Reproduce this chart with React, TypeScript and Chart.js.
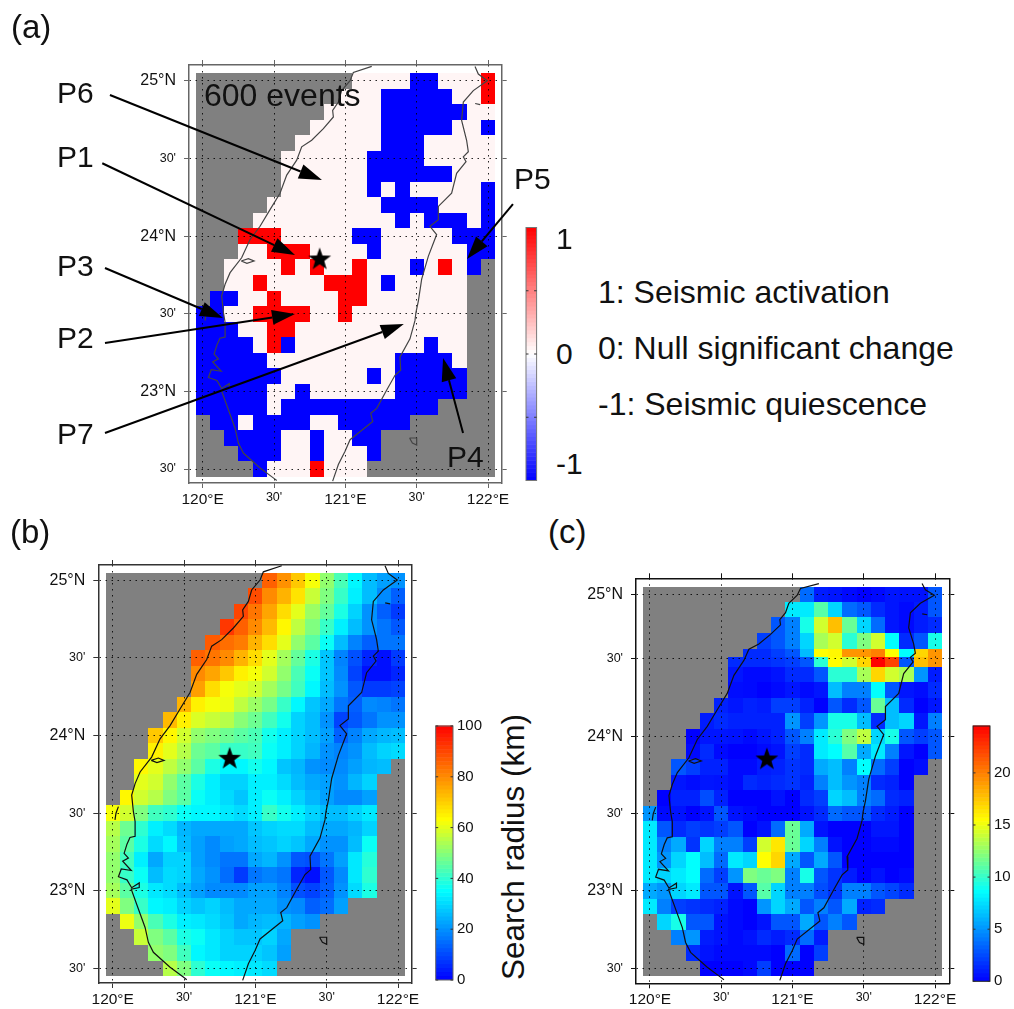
import React, { useEffect, useRef } from "react";
import { Chart, registerables } from "chart.js";

Chart.register(...registerables);

// ---------- axes ----------
const lonTicks = [120, 120.5, 121, 121.5, 122];
const lonLabels = ["120°E", "30'", "121°E", "30'", "122°E"];
const latTicks = [25, 24.5, 24, 23.5, 23, 22.5];
const latTicksC = [24.917, 24.5, 24, 23.5, 23, 22.5];
const latLabels = ["25°N", "30'", "24°N", "30'", "23°N", "30'"];
const radiusTicks = [0, 20, 40, 60, 80, 100];
const countTicks = [0, 5, 10, 15, 20];
const changeTicks = [-1, -0.5, 0, 0.5, 1];

// ---------- panel (a): + activation, o null change, - quiescence, . no data ----------
const seismicRows = [
  "...........oooo--ooo+",
  "..........ooo-----oo+",
  ".........oooo------oo",
  "........ooooo-----oo-",
  ".......oooooo---ooooo",
  "......oooooo----ooooo",
  "......oooooo------ooo",
  "......oooooo-o-ooooo-",
  ".....oooooooo----ooo-",
  "....oooooooooo-o---o-",
  "...+++ooooo--ooooo---",
  "...oo+++oooo-oooooo--",
  "..oooo+o+oo+ooo-o+o-.",
  "..oo+oooo+++o-ooooo..",
  ".--oo+oooo++ooooooo..",
  "--oo++++oo+oooooooo..",
  "---oo++oooooooooooo..",
  "----o+-ooooooooo-oo..",
  "-----ooooooooo----o..",
  "------oooooo-o-----..",
  "-----oo-oooooo-----..",
  "-----o-----------....",
  ".--o----oo-----......",
  "..----oo-oo--........",
  "...---oo-ooo-........",
  "....-ooo+ooo.........",
];

// first column holding data in each row of panels (b) and (c)
const firstCol = [11, 10, 9, 8, 7, 6, 6, 6, 5, 4, 3, 3, 2, 2, 1, 0, 0, 0, 0, 0, 0, 0, 1, 2, 3, 4];

// ---------- panel (b): search radius, km ----------
const radiusRows = [
  [86, 79, 71, 62, 51, 43, 34, 26, 22, 20],
  [89, 80, 74, 67, 57, 49, 41, 33, 26, 19, 13],
  [90, 83, 76, 68, 60, 52, 46, 38, 29, 20, 13, 8],
  [92, 86, 80, 73, 64, 56, 49, 41, 33, 26, 20, 16, 12],
  [87, 84, 82, 74, 68, 60, 51, 45, 36, 26, 18, 13, 16, 16],
  [86, 83, 80, 74, 68, 60, 53, 46, 38, 27, 18, 11, 5, 2, 8],
  [80, 76, 71, 65, 62, 58, 51, 43, 36, 27, 19, 9, 2, 2, 5],
  [77, 68, 62, 60, 58, 53, 48, 42, 34, 26, 20, 12, 8, 8, 9],
  [74, 65, 62, 61, 56, 52, 48, 41, 34, 27, 23, 16, 13, 19, 18, 16],
  [73, 65, 59, 57, 55, 50, 47, 42, 37, 29, 26, 20, 9, 12, 16, 20, 20],
  [71, 64, 58, 51, 49, 47, 45, 43, 37, 33, 29, 26, 22, 13, 18, 23, 25, 26],
  [65, 60, 55, 47, 45, 41, 41, 42, 36, 33, 29, 25, 20, 18, 20, 26, 29, 30],
  [64, 60, 56, 51, 45, 38, 34, 34, 37, 34, 27, 25, 20, 19, 19, 22, 25, 26],
  [60, 58, 51, 45, 38, 33, 29, 29, 33, 33, 30, 26, 23, 22, 20, 25, 29],
  [64, 58, 55, 49, 45, 36, 33, 30, 27, 33, 36, 33, 29, 25, 22, 19, 19, 22],
  [62, 58, 49, 42, 40, 36, 34, 34, 32, 30, 33, 41, 37, 33, 29, 26, 26, 29, 32],
  [55, 47, 40, 33, 30, 25, 23, 23, 23, 23, 27, 29, 30, 30, 26, 23, 23, 25, 29],
  [53, 45, 38, 30, 34, 26, 22, 19, 22, 23, 26, 27, 29, 27, 23, 20, 20, 26, 36],
  [51, 42, 33, 23, 29, 29, 22, 19, 16, 16, 23, 25, 20, 12, 11, 16, 22, 32, 39],
  [51, 41, 36, 26, 30, 29, 23, 20, 15, 8, 16, 18, 16, 5, 2, 12, 19, 32, 40],
  [53, 45, 38, 32, 30, 26, 22, 19, 19, 19, 22, 22, 18, 11, 9, 13, 20, 30, 38],
  [60, 49, 41, 34, 33, 29, 27, 29, 26, 23, 23, 23, 20, 19, 13, 15, 22],
  [61, 51, 43, 38, 33, 32, 30, 27, 23, 25, 26, 25, 22, 20],
  [57, 49, 45, 38, 36, 32, 29, 27, 27, 29, 23],
  [51, 49, 42, 34, 32, 29, 29, 29, 27, 22],
  [55, 49, 40, 36, 34, 33, 32, 30],
];

// ---------- panel (c): colour-bar values 0 to 24.5 ----------
const countRows = [
  [3.6, 0.9, 0.7, 0.3, 0, 0.3, 0.7, 0.6, 0.6, 2.9],
  [7.9, 7.9, 10.9, 7.2, 3.6, 2.9, 1.4, 0.7, 0.3, 0.9, 2.9],
  [2.9, 4.3, 9.2, 14.2, 17.7, 11.4, 7.2, 3.6, 0.7, 0.3, 0.9, 1.4],
  [2.1, 2.9, 4.3, 7.2, 13.1, 14.2, 9.7, 12, 14.2, 8.6, 1.4, 2.9, 9.2],
  [1.4, 1.4, 2.1, 2.9, 6.4, 15.4, 15.7, 19.2, 19.2, 20, 15.4, 8.6, 16.9, 19.2],
  [1.4, 1.4, 1.4, 1.7, 2.1, 2.9, 9.7, 15.4, 14.2, 16.9, 24.5, 22.2, 2.9, 17.7, 19.2],
  [0.7, 0.3, 0.3, 0.6, 1.4, 1.4, 2.9, 9.7, 9.7, 13.1, 16.9, 14.2, 13.1, 5, 0.9],
  [0.4, 0.3, 0, 0.3, 0.7, 0.3, 0.7, 6.4, 4.3, 4.3, 8.6, 2.9, 0.7, 0.4, 1.4],
  [1.1, 0.7, 1.1, 0.9, 2.1, 2.1, 1.1, 0, 2.9, 1.4, 2.9, 11.4, 6.4, 1.4, 0, 0.7],
  [0.9, 1.4, 1.1, 1.1, 1.1, 1.1, 5, 2.1, 5, 9.2, 9.2, 6.4, 1.4, 6.4, 7.2, 0.7, 4.3],
  [0, 0.7, 0.7, 0.6, 0.3, 0.7, 1.1, 2.9, 4.3, 7.9, 9.7, 12, 13.7, 7.2, 9.2, 2.9, 2.1, 2.9],
  [0.3, 1.4, 0.3, 0, 0, 0.3, 0.6, 2.1, 1.4, 7.9, 8.6, 10.9, 5.7, 7.9, 4.3, 0.7, 0, 2.9],
  [2.9, 2.1, 1.1, 1.1, 0.3, 0.3, 0.9, 1.1, 1.7, 1.4, 5.7, 6.4, 4.3, 8.6, 3.6, 2.1, 0, 0.4],
  [0.7, 0.4, 0.7, 0.6, 0.3, 1.4, 1.1, 1.4, 1.7, 1.1, 4.3, 6.4, 5, 4.3, 1.4, 1.1, 0],
  [0, 1.1, 1.1, 2.6, 1.1, 0, 0, 0, 0.6, 0, 1.4, 2.1, 7.2, 6.4, 4.3, 3.6, 1.4, 1.1],
  [5, 0.3, 0.6, 0, 0.6, 2.9, 0.6, 0.3, 0, 0, 0, 0.6, 1.4, 3.6, 2.9, 2.9, 1.4, 0.9, 0],
  [7.9, 2.9, 1.4, 2.1, 1.7, 2.1, 2.9, 0, 0.6, 3.6, 11.4, 5.7, 0.6, 0, 0, 0, 0.7, 0.7, 0],
  [7.9, 4.3, 5.7, 1.7, 7.2, 4.3, 4.3, 2.1, 14.2, 16.3, 11.4, 7.2, 4.3, 0.6, 0, 0, 0.3, 0.3, 0],
  [7.9, 5, 7.2, 8.6, 6.4, 3.6, 7.9, 7.2, 15.4, 16.9, 5.7, 2.9, 5.7, 2.9, 0, 0, 0, 0, 0],
  [7.9, 7.2, 7.9, 8.6, 3.6, 2.1, 5, 12, 11.4, 12, 4.3, 9.2, 2.9, 1.7, 0.9, 0, 0.6, 0, 0.3],
  [5.7, 5, 7.2, 7.9, 2.9, 2.9, 0.6, 2.9, 10.9, 7.2, 4.3, 4.3, 2.6, 1.7, 4.3, 4.3, 2.9, 2.3, 1.4],
  [7.9, 4.3, 2.1, 1.7, 1.4, 1.1, 0.3, 0, 5, 7.2, 5.7, 2.9, 4.3, 2.9, 5.7, 1.1, 1.4],
  [7.2, 9.2, 2.9, 2.9, 0.6, 0.3, 0, 0.6, 2.9, 2.9, 5.7, 2.9, 4.3, 2.9],
  [4.3, 5, 0.9, 0.6, 0.3, 0.6, 1.4, 0.9, 1.4, 3.6, 0.9],
  [1.4, 0.6, 0.3, 0.3, 0.3, 0.3, 0, 3.6, 0, 2.1],
  [0, 0, 0, 0.3, 2.1, 0, 0, 0],
];
// upper rows of panel (c) sit at their own latitudes
const countRowTopLat = [24.966, 24.868, 24.769, 24.666, 24.565, 24.51];

// ---------- coastlines, lon / lat ----------
const westLon = [121.185, 121.056, 121.033, 120.974, 120.951, 120.911, 120.916, 120.846, 120.764, 120.694, 120.659, 120.589, 120.542, 120.472, 120.402, 120.332, 120.273, 120.192, 120.157, 120.133, 120.145, 120.157, 120.157, 120.121, 120.1, 120.08, 120.11, 120.07, 120.13, 120.06, 120.04, 120.1, 120.133, 120.186, 120.186, 120.13, 120.168, 120.227, 120.25, 120.285, 120.402, 120.495, 120.519];
const westLat = [25.094, 25.055, 25.002, 24.938, 24.864, 24.81, 24.768, 24.693, 24.618, 24.576, 24.49, 24.394, 24.277, 24.171, 24.064, 23.979, 23.861, 23.765, 23.69, 23.616, 23.51, 23.446, 23.35, 23.343, 23.3, 23.24, 23.21, 23.19, 23.13, 23.14, 23.09, 23.07, 23.019, 23.05, 23.02, 23.01, 22.913, 22.763, 22.667, 22.603, 22.507, 22.443, 22.426];
const eastLon = [121.909, 121.932, 121.995, 121.897, 121.827, 121.815, 121.85, 121.862, 121.827, 121.846, 121.78, 121.745, 121.652, 121.652, 121.593, 121.64, 121.582, 121.535, 121.512, 121.495, 121.488, 121.453, 121.383, 121.388, 121.348, 121.29, 121.22, 121.178, 121.192, 121.033, 120.998, 120.951, 120.911];
const eastLat = [25.094, 25.045, 25.002, 24.938, 24.864, 24.746, 24.618, 24.544, 24.512, 24.48, 24.405, 24.277, 24.192, 24.107, 24.064, 24.011, 23.872, 23.723, 23.584, 23.51, 23.456, 23.339, 23.222, 23.136, 23.104, 23.009, 22.891, 22.859, 22.806, 22.689, 22.614, 22.529, 22.422];
const islandLon = [121.45, 121.5, 121.5, 121.47, 121.45];
const islandLat = [22.7, 22.7, 22.655, 22.667, 22.7];
const lagoonLon = [120.27, 120.32, 120.36, 120.31, 120.27];
const lagoonLat = [23.84, 23.855, 23.84, 23.825, 23.84];
const barLon = [120.04, 120.023, 120.016];
const barLat = [23.542, 23.499, 23.456];
const isletLon = [121.91, 121.945];
const isletLat = [24.855, 24.848];

const epicenter = { x: 120.82, y: 23.85 };

// ---------- panel (a) arrows: tail lon, tail lat, tip lon, tip lat ----------
const arrowTails = [
  [119.35, 24.91],
  [119.296, 24.47],
  [122.175, 24.207],
  [119.315, 23.795],
  [119.315, 23.312],
  [119.315, 22.732],
  [121.825, 22.732],
];
const arrowTips = [
  [120.836, 24.362],
  [120.647, 23.879],
  [121.853, 23.853],
  [120.142, 23.473],
  [120.647, 23.499],
  [121.41, 23.434],
  [121.685, 23.215],
];

const FONT = "'Liberation Sans', Arial, Helvetica, sans-serif";
const GRAY = "rgb(128,128,128)";

const mix = (a: number[], b: number[], t: number) =>
  `rgb(${a.map((c, i) => Math.round(c + (b[i] - c) * t)).join(",")})`;

function rainbow(t0: number) {
  const t = Math.max(0, Math.min(1, t0));
  if (t < 0.35) return mix([0, 0, 255], [0, 255, 255], t / 0.35);
  if (t < 0.63) return mix([0, 255, 255], [255, 255, 0], (t - 0.35) / 0.28);
  return mix([255, 255, 0], [255, 0, 0], (t - 0.63) / 0.37);
}
function redBlue(v: number) {
  return v >= 0 ? mix([255, 255, 255], [255, 0, 0], v) : mix([255, 255, 255], [0, 0, 255], -v);
}

const seismicGrid = seismicRows.map((r) =>
  r.split("").map((c) => (c === "." ? null : c === "+" ? 1 : c === "-" ? -1 : 0.04)),
);
const padRows = (rows: number[][]) =>
  rows.map((r, i) => [...new Array(firstCol[i]).fill(null), ...r]);

function starCanvas(R: number) {
  const size = Math.ceil(R * 2 + 2);
  const c = document.createElement("canvas");
  c.width = size;
  c.height = size;
  const g = c.getContext("2d")!;
  g.beginPath();
  for (let i = 0; i < 10; i++) {
    const r = i % 2 === 0 ? R : R * 0.4;
    const a = -Math.PI / 2 + (i * Math.PI) / 5;
    const px = size / 2 + r * Math.cos(a);
    const py = size / 2 + r * Math.sin(a);
    if (i === 0) g.moveTo(px, py);
    else g.lineTo(px, py);
  }
  g.closePath();
  g.fillStyle = "#000";
  g.fill();
  return c;
}

type Box = { left: number; top: number; width: number; height: number };
type MapCfg = {
  box: Box;
  frame: { left: number; right: number; top: number; bottom: number };
  lon: [number, number];
  lat: [number, number];
  latTickValues: number[];
  grid: (number | null)[][];
  color: (v: number) => string;
  rowTop?: number[];
  topLat?: (lat: number) => number;
  frameColor: string;
  coastColor: string;
  arrows?: boolean;
};

function makeMap(canvas: HTMLCanvasElement, cfg: MapCfg) {
  const { box, frame } = cfg;
  const adj = cfg.topLat || ((l: number) => l);
  const pts = (lo: number[], la: number[]) => lo.map((x, i) => ({ x, y: adj(la[i]) }));
  const line = (lo: number[], la: number[]) => ({
    type: "scatter" as const,
    data: pts(lo, la),
    showLine: true,
    pointRadius: 0,
    borderWidth: 1.2,
    borderColor: cfg.coastColor,
    tension: 0,
  });
  const rowEdge = (r: number) =>
    cfg.rowTop && r < cfg.rowTop.length ? cfg.rowTop[r] : 25.05 - r * 0.1;

  const cellPlugin = {
    id: "cells",
    beforeDraw(chart: any) {
      const x = chart.scales.x;
      const y = chart.scales.y;
      const ctx = chart.ctx;
      ctx.save();
      const nr = cfg.grid.length;
      const gx0 = Math.round(x.getPixelForValue(119.95));
      const gx1 = Math.round(x.getPixelForValue(122.05));
      const gy0 = Math.round(y.getPixelForValue(rowEdge(0)));
      const gy1 = Math.round(y.getPixelForValue(rowEdge(nr)));
      ctx.fillStyle = GRAY;
      ctx.fillRect(gx0, gy0, gx1 - gx0, gy1 - gy0);
      cfg.grid.forEach((row, r) => {
        const py0 = Math.round(y.getPixelForValue(rowEdge(r)));
        const py1 = Math.round(y.getPixelForValue(rowEdge(r + 1)));
        row.forEach((v, c) => {
          if (v === null || v === undefined) return;
          const px0 = Math.round(x.getPixelForValue(119.95 + c * 0.1));
          const px1 = Math.round(x.getPixelForValue(119.95 + (c + 1) * 0.1));
          ctx.fillStyle = cfg.color(v);
          ctx.fillRect(px0, py0, px1 - px0, py1 - py0);
        });
      });
      ctx.restore();
    },
  };
  const arrowPlugin = {
    id: "arrows",
    afterDraw(chart: any) {
      if (!cfg.arrows) return;
      const x = chart.scales.x;
      const y = chart.scales.y;
      const ctx = chart.ctx;
      ctx.save();
      ctx.strokeStyle = "#000";
      ctx.fillStyle = "#000";
      ctx.lineWidth = 2;
      arrowTails.forEach((tail, i) => {
        const x0 = x.getPixelForValue(tail[0]);
        const y0 = y.getPixelForValue(tail[1]);
        const x1 = x.getPixelForValue(arrowTips[i][0]);
        const y1 = y.getPixelForValue(arrowTips[i][1]);
        const a = Math.atan2(y1 - y0, x1 - x0);
        const L = 23;
        const W = 7.5;
        const bx = x1 - L * Math.cos(a);
        const by = y1 - L * Math.sin(a);
        ctx.beginPath();
        ctx.moveTo(x0, y0);
        ctx.lineTo(bx, by);
        ctx.stroke();
        ctx.beginPath();
        ctx.moveTo(x1, y1);
        ctx.lineTo(bx - W * Math.sin(a), by + W * Math.cos(a));
        ctx.lineTo(bx + W * Math.sin(a), by - W * Math.cos(a));
        ctx.closePath();
        ctx.fill();
      });
      ctx.restore();
    },
  };

  const gridOpt = {
    color: "rgba(0,0,0,0.85)",
    lineWidth: 1,
    tickColor: cfg.frameColor,
    tickLength: 5,
    tickWidth: 1,
    tickBorderDash: [],
  };
  const borderOpt = { display: true, color: cfg.frameColor, width: 1.5, dash: [1.5, 4.5] };
  const setLon = (s: any) => {
    s.ticks = lonTicks.map((value) => ({ value }));
  };
  const setLat = (s: any) => {
    s.ticks = cfg.latTickValues.map((value) => ({ value }));
  };
  const fitH = (h: number) => (s: any) => {
    s.height = h;
    s.paddingLeft = s.paddingRight = 0;
  };
  const fitW = (w: number) => (s: any) => {
    s.width = w;
    s.paddingTop = s.paddingBottom = 0;
  };
  const xBase = { type: "linear" as const, min: cfg.lon[0], max: cfg.lon[1], afterBuildTicks: setLon };
  const yBase = { type: "linear" as const, min: cfg.lat[0], max: cfg.lat[1], afterBuildTicks: setLat };

  return new Chart(canvas, {
    type: "scatter",
    data: {
      datasets: [
        line(westLon, westLat),
        line(eastLon, eastLat),
        line(islandLon, islandLat),
        line(lagoonLon, lagoonLat),
        line(barLon, barLat),
        line(isletLon, isletLat),
        {
          type: "scatter" as const,
          data: [epicenter],
          pointStyle: starCanvas(12) as any,
          pointRadius: 12,
        },
      ],
    },
    options: {
      responsive: false,
      animation: false,
      events: [],
      layout: { padding: 0 },
      plugins: { legend: { display: false }, tooltip: { enabled: false }, title: { display: false } },
      scales: {
        x: {
          ...xBase,
          position: "bottom",
          afterFit: fitH(box.top + box.height - frame.bottom),
          grid: { ...gridOpt },
          border: borderOpt,
          ticks: {
            autoSkip: false,
            maxRotation: 0,
            padding: 2,
            color: "#111",
            callback: (_v: any, i: number) => lonLabels[i],
            font: (ctx: any) => ({
              family: FONT,
              size: ctx.index % 2 === 1 ? 12.5 : 15.5,
            }),
          },
        },
        xTop: {
          ...xBase,
          position: "top",
          afterFit: fitH(frame.top - box.top),
          grid: { ...gridOpt, drawOnChartArea: false },
          border: borderOpt,
          ticks: { display: false },
        },
        y: {
          ...yBase,
          position: "left",
          afterFit: fitW(frame.left - box.left),
          grid: { ...gridOpt },
          border: borderOpt,
          ticks: {
            autoSkip: false,
            padding: 8,
            color: "#111",
            callback: (_v: any, i: number) => latLabels[i],
            font: (ctx: any) => ({
              family: FONT,
              size: ctx.index % 2 === 1 ? 12.5 : 16,
            }),
          },
        },
        yRight: {
          ...yBase,
          position: "right",
          afterFit: fitW(box.left + box.width - frame.right),
          grid: { ...gridOpt, drawOnChartArea: false },
          border: borderOpt,
          ticks: { display: false },
        },
      },
    } as any,
    plugins: [cellPlugin, arrowPlugin],
  });
}

type BarCfg = {
  box: Box;
  bar: { left: number; right: number; top: number; bottom: number };
  min: number;
  max: number;
  ticks: number[];
  color: (v: number) => string;
  labels: boolean;
  edge: string;
};

function makeBar(canvas: HTMLCanvasElement, cfg: BarCfg) {
  const { box, bar } = cfg;
  const barPlugin = {
    id: "bar",
    beforeDatasetsDraw(chart: any) {
      const y = chart.scales.y;
      const { left, right } = chart.chartArea;
      const ctx = chart.ctx;
      ctx.save();
      const levels = 64;
      for (let i = 0; i < levels; i++) {
        const v0 = cfg.min + ((cfg.max - cfg.min) * i) / levels;
        const v1 = cfg.min + ((cfg.max - cfg.min) * (i + 1)) / levels;
        const p0 = y.getPixelForValue(v0);
        const p1 = y.getPixelForValue(v1);
        ctx.fillStyle = cfg.color((v0 + v1) / 2);
        ctx.fillRect(left, p1 - 0.5, right - left, p0 - p1 + 0.5);
      }
      ctx.strokeStyle = cfg.edge;
      ctx.lineWidth = 1;
      ctx.strokeRect(left, chart.chartArea.top, right - left, chart.chartArea.bottom - chart.chartArea.top);
      ctx.strokeStyle = "#333";
      cfg.ticks.forEach((t) => {
        const p = y.getPixelForValue(t);
        ctx.beginPath();
        ctx.moveTo(left, p);
        ctx.lineTo(left + 2.5, p);
        ctx.moveTo(right - 2.5, p);
        ctx.lineTo(right, p);
        ctx.stroke();
      });
      ctx.restore();
    },
  };
  return new Chart(canvas, {
    type: "scatter",
    data: { datasets: [{ data: [], pointRadius: 0 }] },
    options: {
      responsive: false,
      animation: false,
      events: [],
      layout: {
        padding: {
          left: bar.left - box.left,
          top: bar.top - box.top,
          bottom: box.top + box.height - bar.bottom,
          right: cfg.labels ? 0 : box.left + box.width - bar.right,
        },
      },
      plugins: { legend: { display: false }, tooltip: { enabled: false } },
      scales: {
        x: { display: false, min: 0, max: 1 },
        y: {
          type: "linear",
          display: cfg.labels,
          position: "right",
          min: cfg.min,
          max: cfg.max,
          afterBuildTicks: (s: any) => {
            s.ticks = cfg.ticks.map((value) => ({ value }));
          },
          afterFit: (s: any) => {
            s.width = box.left + box.width - bar.right;
            s.paddingTop = s.paddingBottom = 0;
          },
          grid: { display: false, drawTicks: false },
          border: { display: false },
          ticks: {
            autoSkip: false,
            padding: 4,
            color: "#111",
            font: { family: FONT, size: 15 },
          },
        },
      },
    } as any,
    plugins: [barPlugin],
  });
}

function Text({ x, base, size, children }: { x: number; base: number; size: number; children: React.ReactNode }) {
  return (
    <div
      style={{
        position: "absolute",
        left: x,
        top: base - 0.8465 * size,
        fontFamily: FONT,
        fontSize: size,
        lineHeight: `${size}px`,
        whiteSpace: "nowrap",
        color: "#111",
      }}
    >
      {children}
    </div>
  );
}

const boxes: Record<string, Box> = {
  a: { left: 0, top: 45, width: 520, height: 465 },
  b: { left: 40, top: 550, width: 390, height: 459 },
  c: { left: 578, top: 560, width: 390, height: 449 },
  barA: { left: 520, top: 220, width: 30, height: 268 },
  barB: { left: 430, top: 715, width: 60, height: 275 },
  barC: { left: 968, top: 715, width: 46, height: 275 },
};

export default function App() {
  const refs = useRef<Record<string, HTMLCanvasElement | null>>({});
  useEffect(() => {
    const charts = [
      makeMap(refs.current.a!, {
        box: boxes.a,
        frame: { left: 189, right: 501.7, top: 65, bottom: 483 },
        lon: [119.904, 122.096],
        lat: [22.41, 25.103],
        latTickValues: latTicks,
        grid: seismicGrid,
        color: redBlue,
        frameColor: "#666",
        coastColor: "#444",
        arrows: true,
      }),
      makeMap(refs.current.b!, {
        box: boxes.b,
        frame: { left: 98.3, right: 411.7, top: 565, bottom: 983 },
        lon: [119.899, 122.096],
        lat: [22.405, 25.099],
        latTickValues: latTicks,
        grid: padRows(radiusRows),
        color: (v) => rainbow(v / 100),
        frameColor: "#333",
        coastColor: "#111",
      }),
      makeMap(refs.current.c!, {
        box: boxes.c,
        frame: { left: 636, right: 949.3, top: 578.3, bottom: 983.3 },
        lon: [119.902, 122.1],
        lat: [22.403, 25.021],
        latTickValues: latTicksC,
        grid: padRows(countRows),
        color: (v) => rainbow(v / 24.5),
        rowTop: countRowTopLat,
        topLat: (l) => (l > 24.5 ? 24.5 + (l - 24.5) * 0.82 : l),
        frameColor: "#111",
        coastColor: "#111",
      }),
      makeBar(refs.current.barA!, {
        box: boxes.barA,
        bar: { left: 526, right: 543.3, top: 227.5, bottom: 480.5 },
        min: -1,
        max: 1,
        ticks: changeTicks.slice(1, 4),
        color: redBlue,
        labels: false,
        edge: "#777",
      }),
      makeBar(refs.current.barB!, {
        box: boxes.barB,
        bar: { left: 435.7, right: 453, top: 726, bottom: 980 },
        min: 0,
        max: 100,
        ticks: radiusTicks,
        color: (v) => rainbow(v / 100),
        labels: true,
        edge: "#666",
      }),
      makeBar(refs.current.barC!, {
        box: boxes.barC,
        bar: { left: 973, right: 990, top: 726, bottom: 981.3 },
        min: 0,
        max: 24.5,
        ticks: countTicks,
        color: (v) => rainbow(v / 24.5),
        labels: true,
        edge: "#222",
      }),
    ];
    return () => charts.forEach((c) => c.destroy());
  }, []);

  return (
    <div style={{ position: "absolute", left: 0, top: 0, width: 1014, height: 1009, overflow: "hidden", background: "#fff" }}>
      {Object.keys(boxes).map((k) => (
        <canvas
          key={k}
          ref={(el) => {
            refs.current[k] = el;
          }}
          width={boxes[k].width}
          height={boxes[k].height}
          style={{
            position: "absolute",
            left: boxes[k].left,
            top: boxes[k].top,
            width: boxes[k].width,
            height: boxes[k].height,
            filter: "blur(0.6px)",
          }}
        />
      ))}
      <Text x={11} base={38} size={33}>(a)</Text>
      <Text x={10} base={543} size={33}>(b)</Text>
      <Text x={548} base={543} size={33}>(c)</Text>
      <Text x={57} base={103} size={30}>P6</Text>
      <Text x={57} base={167} size={30}>P1</Text>
      <Text x={57} base={276} size={30}>P3</Text>
      <Text x={57} base={348} size={30}>P2</Text>
      <Text x={57} base={444} size={30}>P7</Text>
      <Text x={514} base={189} size={30}>P5</Text>
      <Text x={447} base={467} size={30}>P4</Text>
      <Text x={204} base={106} size={32}>600 events</Text>
      <Text x={556} base={249} size={30}>1</Text>
      <Text x={556} base={364} size={30}>0</Text>
      <Text x={556} base={474} size={30}>-1</Text>
      <Text x={598} base={303} size={32}>1: Seismic activation</Text>
      <Text x={598} base={359} size={32}>0: Null significant change</Text>
      <Text x={598} base={415} size={32}>-1: Seismic quiescence</Text>
      <div
        style={{
          position: "absolute",
          left: 513,
          top: 847,
          transform: "translate(-50%,-50%) rotate(-90deg)",
          fontFamily: FONT,
          fontSize: 31.5,
          lineHeight: "32px",
          whiteSpace: "nowrap",
          color: "#111",
        }}
      >
        Search radius (km)
      </div>
    </div>
  );
}
